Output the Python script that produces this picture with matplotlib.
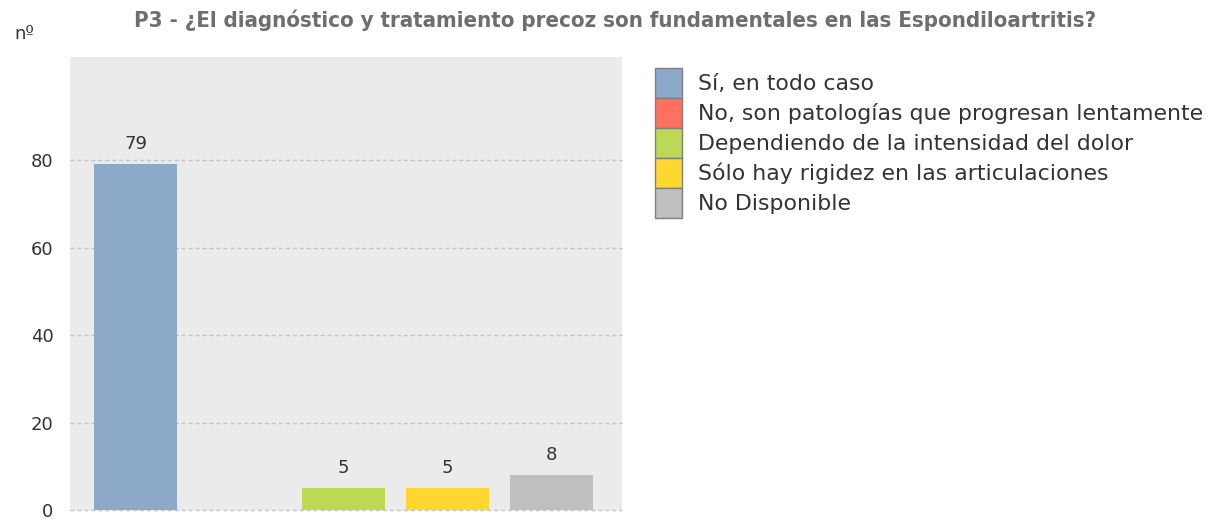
import matplotlib
matplotlib.use("Agg")
import matplotlib.pyplot as plt

# ─────────────────────────────────────────────
# DATA
# ─────────────────────────────────────────────
TITLE = "P3 - ¿El diagnóstico y tratamiento precoz son fundamentales en las Espondiloartritis?"
categories = [
    "Sí, en todo caso",
    "No, son patologías que progresan lentamente",
    "Dependiendo de la intensidad del dolor",
    "Sólo hay rigidez en las articulaciones",
    "No Disponible",
]
counts = [79, 0, 5, 5, 8]
colors = ["#8CA9CA", "#FF7060", "#BCD854", "#FFD72E", "#BFBFBF"]
yticks = [0, 20, 40, 60, 80]

# ─────────────────────────────────────────────
# FIGURE
# ─────────────────────────────────────────────
fig = plt.figure(figsize=(12.08, 5.19), dpi=100)
ax = fig.add_axes([0.058, 0.017, 0.457, 0.873])
ax.set_facecolor("#EBEBEB")

x = range(len(counts))
bars = ax.bar(x, counts, width=0.8, color=colors, edgecolor="none", zorder=3)

for xi, v in zip(x, counts):
    if v > 0:
        ax.text(xi, v + 2.6, str(v), ha="center", va="bottom",
                fontsize=13, color="#333333")

ax.set_xlim(-0.63, 4.68)
ax.set_ylim(0, 103.5)
ax.set_xticks([])
ax.set_yticks(yticks)
ax.tick_params(axis="y", length=0, labelsize=13, labelcolor="#333333", pad=12)
for y in yticks:
    ax.axhline(y, color="#C4C4C4", linestyle=(0, (3, 2)), linewidth=1, zorder=2,
               clip_on=False)
for s in ax.spines.values():
    s.set_visible(False)

fig.text(0.5095, 0.961, TITLE, ha="center", va="center", fontsize=15.9,
         fontweight="bold", color="#6E6E6E", family="DejaVu Sans",
         fontstretch="condensed")
fig.text(0.012, 0.935, "nº", ha="left", va="center", fontsize=13, color="#333333")

# legend
handles = [plt.Rectangle((0, 0), 1, 1, facecolor=c, edgecolor="#7F7F7F", linewidth=1)
           for c in colors]
fs = 15.8
leg = fig.legend(handles, categories, loc="upper left",
                 bbox_to_anchor=(0.542, 0.869), frameon=False,
                 fontsize=fs, handlelength=1.23, handleheight=1.72,
                 handletextpad=0.73, labelspacing=0.0, borderpad=0,
                 borderaxespad=0)
for t in leg.get_texts():
    t.set_color("#333333")

fig.savefig("out.png", dpi=100)
